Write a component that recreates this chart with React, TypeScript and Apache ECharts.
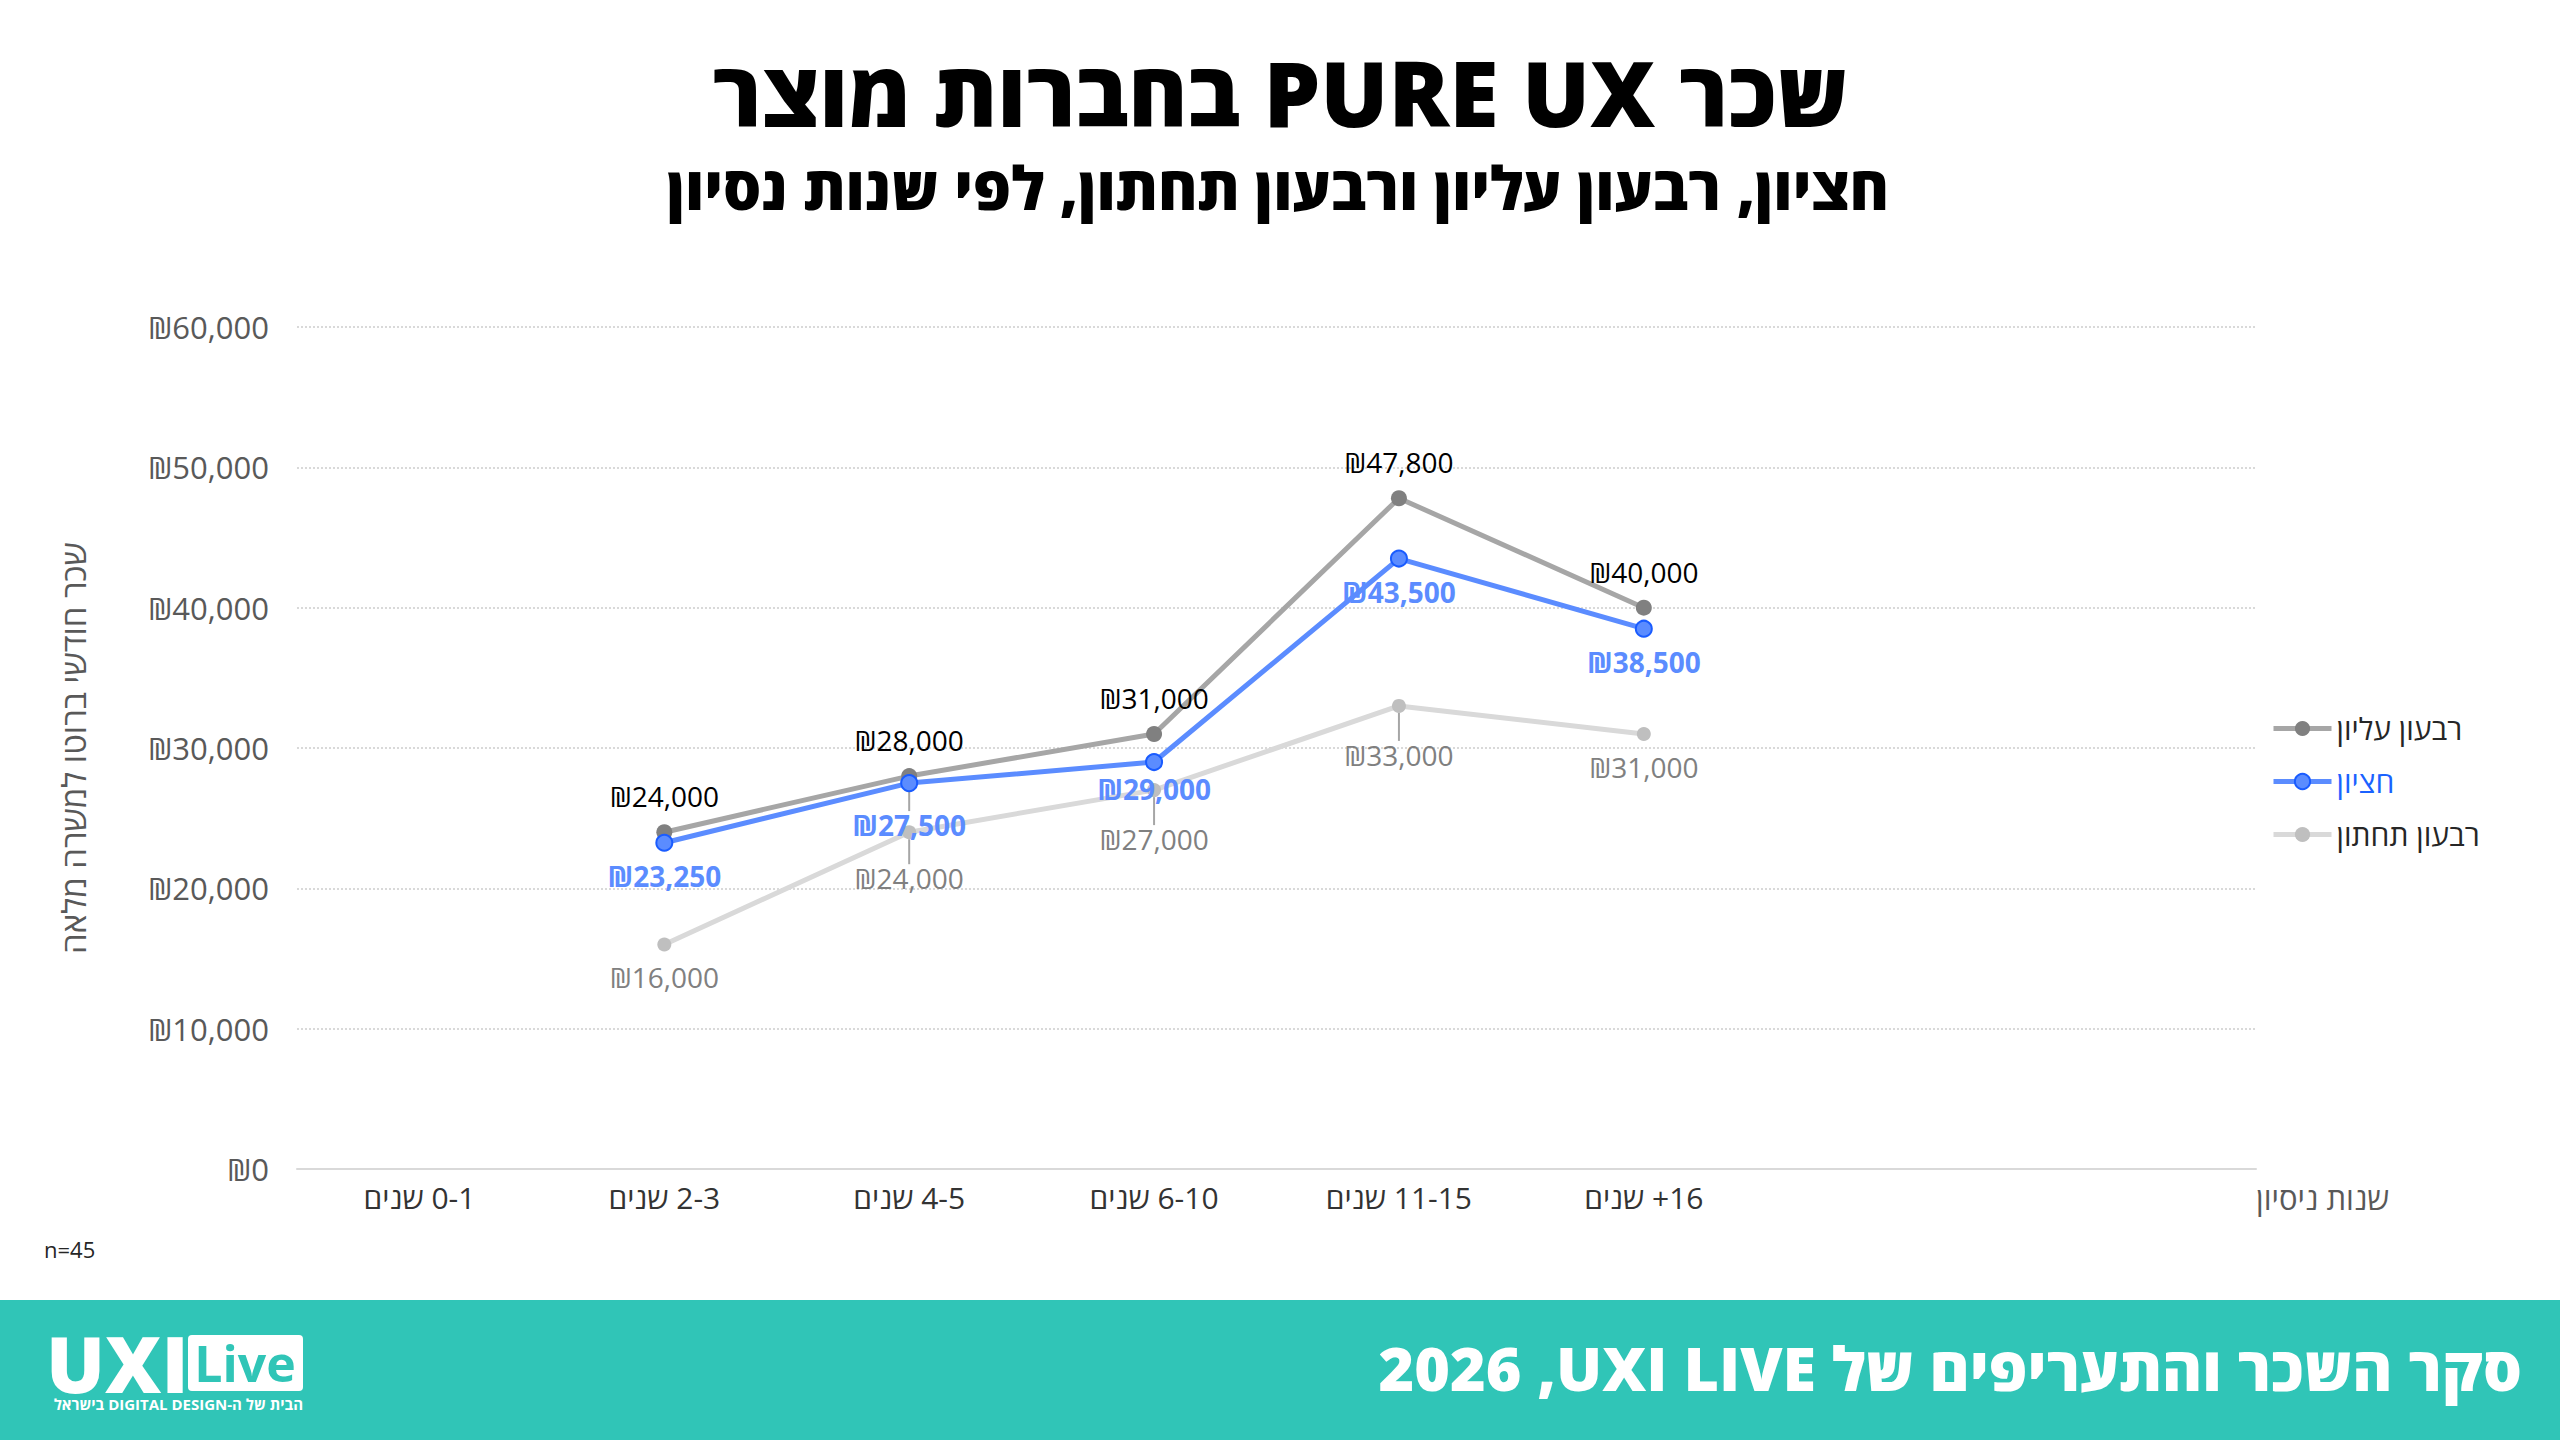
import React, { useEffect, useRef } from 'react';
import * as echarts from 'echarts';

// ---------- data ----------
const categories = ['0-1 שנים', '2-3 שנים', '4-5 שנים', '6-10 שנים', '11-15 שנים', '16+ שנים', '', ''];
const upperQuartile = [null, 24000, 28000, 31000, 47800, 40000, null, null];
const median = [null, 23250, 27500, 29000, 43500, 38500, null, null];
const lowerQuartile = [null, 16000, 24000, 27000, 33000, 31000, null, null];
const seriesNames = ['רבעון עליון', 'חציון', 'רבעון תחתון'];
const yMin = 0;
const yMax = 60000;
const yInterval = 10000;

const titleText = 'שכר PURE UX בחברות מוצר';
const subtitleText = 'חציון, רבעון עליון ורבעון תחתון, לפי שנות נסיון';
const yAxisName = 'שכר חודשי ברוטו למשרה מלאה';
const xAxisName = 'שנות ניסיון';
const sampleNote = 'n=45';
const footerText = 'סקר השכר והתעריפים של UXI LIVE\u200F, 2026';
const logoTagline = 'הבית של ה-DIGITAL DESIGN בישראל';

// label nudges (style only)
const medianLabelShift: Record<number, number> = { 2: 9, 3: -6 };
const lowerLabelShift: Record<number, number> = { 2: 13, 3: 16, 4: 16 };
const medianLeaderIdx = [2];
const lowerLeaderIdx = [2, 3, 4];

const FONT = '"Open Sans", "Liberation Sans", "DejaVu Sans", sans-serif';
const TEAL = '#30c5b7';
const rtl = (s: string) => '\u202B' + s + '\u202C';
const money = (v: number) => '₪' + Number(v).toLocaleString('en-US');

function withLeaders(values: (number | null)[], idx: number[]) {
  return values.map((v, i) =>
    v == null ? null : idx.includes(i) ? { value: v, labelLine: { show: true } } : v
  );
}

export default function App() {
  const ref = useRef<HTMLDivElement>(null);
  useEffect(() => {
    document.body.style.margin = '0';
    if (!ref.current) return;
    const chart = echarts.init(ref.current, null, { renderer: 'svg' });
    const labelBase = { show: true, fontFamily: FONT, fontSize: 28, formatter: (p: any) => money(p.value) };
    chart.setOption({
      animation: false,
      backgroundColor: '#ffffff',
      textStyle: { fontFamily: FONT },
      grid: { left: 297, right: 304, top: 327, bottom: 271, containLabel: false },
      legend: {
        orient: 'vertical',
        left: 2266,
        top: 705,
        itemWidth: 58,
        itemHeight: 19,
        itemGap: 16,
        lineStyle: { width: 5 },
        textStyle: { fontFamily: FONT, fontSize: 30, color: '#262626', lineHeight: 37 },
        data: [
          { name: seriesNames[0] },
          { name: seriesNames[1], textStyle: { color: '#1a62ff' } },
          { name: seriesNames[2] },
        ],
      },
      xAxis: {
        type: 'category',
        data: categories,
        boundaryGap: true,
        name: xAxisName,
        nameLocation: 'end',
        nameGap: 0,
        nameTextStyle: {
          fontFamily: FONT,
          fontSize: 31,
          color: '#595959',
          align: 'left',
          verticalAlign: 'top',
          padding: [13, 0, 0, 0],
        },
        axisLine: { lineStyle: { color: '#d9d9d9', width: 2 } },
        axisTick: { show: false },
        axisLabel: {
          color: '#333333',
          fontSize: 30,
          fontFamily: FONT,
          margin: 13,
          interval: 0,
          formatter: (v: string) => (v ? rtl(v) : ''),
        },
      },
      yAxis: {
        type: 'value',
        min: yMin,
        max: yMax,
        interval: yInterval,
        name: yAxisName,
        nameLocation: 'middle',
        nameGap: 207,
        nameTextStyle: { fontFamily: FONT, fontSize: 33, color: '#595959' },
        axisLine: { show: false },
        axisTick: { show: false },
        axisLabel: { color: '#595959', fontSize: 31, fontFamily: FONT, margin: 28, formatter: (v: number) => money(v) },
        splitLine: { lineStyle: { type: 'dotted', color: '#d9d9d9', width: 2 } },
      },
      series: [
        {
          name: seriesNames[0],
          type: 'line',
          data: upperQuartile,
          z: 3,
          symbol: 'circle',
          symbolSize: 16,
          lineStyle: { color: '#a6a6a6', width: 5 },
          itemStyle: { color: '#808080' },
          label: { ...labelBase, position: 'top', distance: 14, color: '#000000' },
        },
        {
          name: seriesNames[1],
          type: 'line',
          data: withLeaders(median, medianLeaderIdx),
          z: 4,
          symbol: 'circle',
          symbolSize: 16,
          lineStyle: { color: '#5b8cff', width: 5 },
          itemStyle: { color: '#5b8cff', borderColor: '#1a5cff', borderWidth: 2 },
          label: { ...labelBase, position: 'bottom', distance: 10, color: '#5b8cff', fontWeight: 'bold' },
          labelLine: { show: false, lineStyle: { color: '#a6a6a6', width: 2 } },
          labelLayout: (p: any) => ({ dy: medianLabelShift[p.dataIndex] || 0 }),
        },
        {
          name: seriesNames[2],
          type: 'line',
          data: withLeaders(lowerQuartile, lowerLeaderIdx),
          z: 2,
          symbol: 'circle',
          symbolSize: 14,
          lineStyle: { color: '#d9d9d9', width: 5 },
          itemStyle: { color: '#bfbfbf' },
          label: { ...labelBase, position: 'bottom', distance: 12, color: '#808080' },
          labelLine: { show: false, lineStyle: { color: '#a6a6a6', width: 2 } },
          labelLayout: (p: any) => ({ dy: lowerLabelShift[p.dataIndex] || 0 }),
        },
      ],
      graphic: [
        {
          type: 'text',
          x: 1280,
          y: 92,
          style: { text: rtl(titleText), font: `800 90px ${FONT}`, fill: '#000', align: 'center', verticalAlign: 'middle' },
        },
        {
          type: 'text',
          x: 1278,
          y: 187,
          style: { text: rtl(subtitleText), font: `800 60px ${FONT}`, fill: '#000', align: 'center', verticalAlign: 'middle' },
        },
        {
          type: 'text',
          x: 44,
          y: 1249,
          style: { text: sampleNote, font: `400 22px ${FONT}`, fill: '#262626', align: 'left', verticalAlign: 'middle' },
        },
        { type: 'rect', shape: { x: 0, y: 1300, width: 2560, height: 140 }, style: { fill: TEAL } },
        {
          type: 'text',
          x: 2522,
          y: 1367,
          style: { text: rtl(footerText), font: `800 61px ${FONT}`, fill: '#fff', align: 'right', verticalAlign: 'middle' },
        },
        {
          type: 'text',
          x: 46,
          y: 1363,
          style: { text: 'UXI', font: `900 78px ${FONT}`, fill: '#fff', align: 'left', verticalAlign: 'middle' },
        },
        { type: 'rect', shape: { x: 188, y: 1335, width: 115, height: 56, r: 4 }, style: { fill: '#fff' } },
        {
          type: 'text',
          x: 245,
          y: 1363,
          style: { text: 'Live', font: `700 50px ${FONT}`, fill: TEAL, align: 'center', verticalAlign: 'middle' },
        },
        {
          type: 'text',
          x: 303,
          y: 1404,
          style: { text: rtl(logoTagline), font: `700 15px ${FONT}`, fill: '#fff', align: 'right', verticalAlign: 'middle' },
        },
      ],
    });
    return () => chart.dispose();
  }, []);
  return <div ref={ref} style={{ width: 2560, height: 1440 }} />;
}
